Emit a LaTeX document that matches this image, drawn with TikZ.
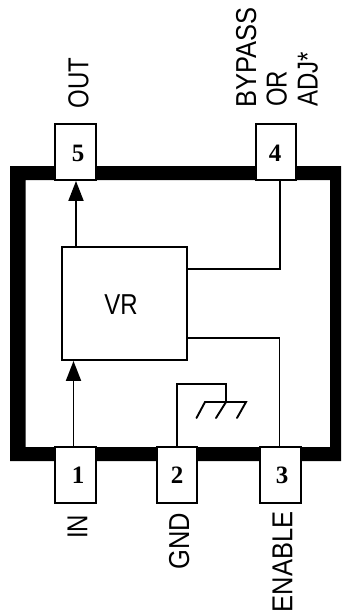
\documentclass[tikz,border=0pt]{standalone}
\usepackage{fontspec}
\usetikzlibrary{arrows.meta}
\setmainfont{Liberation Sans}
\newfontfamily\pinfont{Liberation Serif}[Scale=1]
\newcommand{\lbl}[1]{\scalebox{1}[1.2]{\fontsize{24}{24}\selectfont #1}}
\newcommand{\lblw}[1]{\scalebox{1}[1.13]{\fontsize{25.5}{25.5}\selectfont #1}}
\tikzset{
  x=1pt,y=-1pt,
  wire/.style={line width=1.9pt,line join=miter},
  arrowwire/.style={wire,-{Triangle[length=20pt,width=15pt]}},
  pinbox/.style={draw=black,fill=white,line width=1.9pt,minimum width=40.5pt,minimum height=56pt,inner sep=0pt},
  pinnum/.style={inner sep=0pt,font=\pinfont\bfseries\fontsize{25}{25}\selectfont},
  pinname/.style={rotate=90,anchor=base west,inner sep=0pt},
  vrbox/.style={draw=black,fill=white,line width=1.9pt,minimum width=125.5pt,minimum height=113pt,inner sep=0pt},
}
\begin{document}
\begin{tikzpicture}
\useasboundingbox (0,0) rectangle (341,614);
\fill[black,even odd rule] (10,166) rectangle (341,461) (25.5,180) rectangle (330,447);
\node[pinbox] (p5) at (75.5,152) {};
\node[pinbox] (p4) at (276,152) {};
\node[pinbox] (p1) at (75.5,475) {};
\node[pinbox] (p2) at (177,475) {};
\node[pinbox] (p3) at (280.5,475) {};
\node[pinnum] (d5) at (78,153) {5};
\node[pinnum] (d4) at (275,153) {4};
\node[pinnum] (d1) at (78,475) {1};
\node[pinnum] (d2) at (177,475) {2};
\node[pinnum] (d3) at (282,475) {3};
\node[vrbox] (vr) at (124.5,303.5) {};
\node[inner sep=0pt] (vrt) at (121,305) {\lbl{VR}};
\coordinate (outx) at (76,0);
\coordinate (inx) at (73.5,0);
\coordinate (byx) at (280,0);
\coordinate (enx) at (279.5,0);
\coordinate (by) at (0,268.7);
\coordinate (en) at (0,337.7);
\draw[arrowwire] (vr.north -| outx) -- (p5.south -| outx);
\draw[arrowwire] (p1.north -| inx) -- (vr.south -| inx);
\draw[wire] (p4.south -| byx) |- (vr.east |- by);
\draw[wire] (p3.north -| enx) |- (vr.east |- en);
\coordinate (g1) at (177,384);
\coordinate (g2) at (226,384);
\coordinate (b1) at (205,402);
\coordinate (b2) at (226,402);
\coordinate (b3) at (246,402);
\draw[wire] (p2.north) -- (g1) -- (g2) -- (b2);
\draw[wire,line cap=round] (196.5,418) -- (b1) -- (b3) -- (237,418);
\draw[wire,line cap=round] (b2) -- (216,418);
\node[pinname] (nout) at (88.3,108.5) {\lbl{OUT}};
\node[pinname] (nby) at (256,107.5) {\lblw{BYPASS}};
\node[pinname] (nor) at (286.7,107) {\lbl{OR}};
\node[pinname] (nadj) at (317.7,107) {\lbl{ADJ*}};
\node[pinname] (nin) at (87.3,539) {\lbl{IN}};
\node[pinname] (ngnd) at (189,569.5) {\lblw{GND}};
\node[pinname] (nen) at (292.3,612.5) {\lblw{ENABLE}};
\end{tikzpicture}
\end{document}
